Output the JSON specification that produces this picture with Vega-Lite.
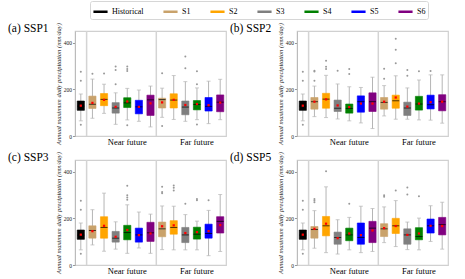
{
  "$schema": "https://vega.github.io/schema/vega-lite/v6.json",
  "padding": {"left": 7, "top": 0, "right": 2, "bottom": 2},
  "background": "white",
  "datasets": {
    "sep": [{"slot": "N1"}, {"slot": "F1"}],
    "box": [
      {"panel": "SSP1", "slot": "H", "series": "Historical", "lo": 65, "q1": 110, "med": 128, "q3": 150, "hi": 180, "mean": 130},
      {"panel": "SSP1", "slot": "N1", "series": "S1", "lo": 76, "q1": 118, "med": 136, "q3": 171, "hi": 244, "mean": 142},
      {"panel": "SSP1", "slot": "N2", "series": "S2", "lo": 97, "q1": 130, "med": 157, "q3": 182, "hi": 222, "mean": 155},
      {"panel": "SSP1", "slot": "N3", "series": "S3", "lo": 50, "q1": 98, "med": 120, "q3": 143, "hi": 185, "mean": 125},
      {"panel": "SSP1", "slot": "N4", "series": "S4", "lo": 69, "q1": 122, "med": 142, "q3": 164, "hi": 204, "mean": 148},
      {"panel": "SSP1", "slot": "N5", "series": "S5", "lo": 63, "q1": 95, "med": 125, "q3": 153, "hi": 197, "mean": 125},
      {"panel": "SSP1", "slot": "N6", "series": "S6", "lo": 39, "q1": 88, "med": 155, "q3": 175, "hi": 214, "mean": 140},
      {"panel": "SSP1", "slot": "F1", "series": "S1", "lo": 80, "q1": 120, "med": 156, "q3": 162, "hi": 205, "mean": 144},
      {"panel": "SSP1", "slot": "F2", "series": "S2", "lo": 71, "q1": 120, "med": 154, "q3": 181, "hi": 259, "mean": 155},
      {"panel": "SSP1", "slot": "F3", "series": "S3", "lo": 63, "q1": 91, "med": 124, "q3": 150, "hi": 233, "mean": 133},
      {"panel": "SSP1", "slot": "F4", "series": "S4", "lo": 70, "q1": 112, "med": 135, "q3": 152, "hi": 206, "mean": 137},
      {"panel": "SSP1", "slot": "F5", "series": "S5", "lo": 53, "q1": 107, "med": 127, "q3": 165, "hi": 235, "mean": 132},
      {"panel": "SSP1", "slot": "F6", "series": "S6", "lo": 70, "q1": 104, "med": 145, "q3": 176, "hi": 243, "mean": 143},

      {"panel": "SSP2", "slot": "H", "series": "Historical", "lo": 65, "q1": 110, "med": 128, "q3": 150, "hi": 180, "mean": 130},
      {"panel": "SSP2", "slot": "N1", "series": "S1", "lo": 83, "q1": 115, "med": 147, "q3": 165, "hi": 214, "mean": 147},
      {"panel": "SSP2", "slot": "N2", "series": "S2", "lo": 79, "q1": 119, "med": 158, "q3": 183, "hi": 260, "mean": 157},
      {"panel": "SSP2", "slot": "N3", "series": "S3", "lo": 73, "q1": 105, "med": 119, "q3": 154, "hi": 223, "mean": 131},
      {"panel": "SSP2", "slot": "N4", "series": "S4", "lo": 65, "q1": 98, "med": 118, "q3": 137, "hi": 211, "mean": 124},
      {"panel": "SSP2", "slot": "N5", "series": "S5", "lo": 56, "q1": 102, "med": 147, "q3": 172, "hi": 208, "mean": 139},
      {"panel": "SSP2", "slot": "N6", "series": "S6", "lo": 32, "q1": 105, "med": 147, "q3": 185, "hi": 252, "mean": 139},
      {"panel": "SSP2", "slot": "F1", "series": "S1", "lo": 86, "q1": 115, "med": 144, "q3": 165, "hi": 216, "mean": 147},
      {"panel": "SSP2", "slot": "F2", "series": "S2", "lo": 72, "q1": 119, "med": 151, "q3": 175, "hi": 258, "mean": 165},
      {"panel": "SSP2", "slot": "F3", "series": "S3", "lo": 72, "q1": 88, "med": 120, "q3": 145, "hi": 206, "mean": 126},
      {"panel": "SSP2", "slot": "F4", "series": "S4", "lo": 69, "q1": 111, "med": 137, "q3": 170, "hi": 240, "mean": 139},
      {"panel": "SSP2", "slot": "F5", "series": "S5", "lo": 68, "q1": 116, "med": 134, "q3": 175, "hi": 262, "mean": 145},
      {"panel": "SSP2", "slot": "F6", "series": "S6", "lo": 55, "q1": 108, "med": 147, "q3": 177, "hi": 262, "mean": 147},

      {"panel": "SSP3", "slot": "H", "series": "Historical", "lo": 65, "q1": 110, "med": 128, "q3": 150, "hi": 180, "mean": 130},
      {"panel": "SSP3", "slot": "N1", "series": "S1", "lo": 86, "q1": 115, "med": 148, "q3": 168, "hi": 237, "mean": 145},
      {"panel": "SSP3", "slot": "N2", "series": "S2", "lo": 59, "q1": 115, "med": 161, "q3": 207, "hi": 308, "mean": 168},
      {"panel": "SSP3", "slot": "N3", "series": "S3", "lo": 68, "q1": 98, "med": 115, "q3": 144, "hi": 185, "mean": 121},
      {"panel": "SSP3", "slot": "N4", "series": "S4", "lo": 50, "q1": 108, "med": 139, "q3": 170, "hi": 258, "mean": 150},
      {"panel": "SSP3", "slot": "N5", "series": "S5", "lo": 73, "q1": 98, "med": 129, "q3": 158, "hi": 227, "mean": 128},
      {"panel": "SSP3", "slot": "N6", "series": "S6", "lo": 50, "q1": 101, "med": 138, "q3": 183, "hi": 218, "mean": 135},
      {"panel": "SSP3", "slot": "F1", "series": "S1", "lo": 66, "q1": 121, "med": 155, "q3": 184, "hi": 253, "mean": 166},
      {"panel": "SSP3", "slot": "F2", "series": "S2", "lo": 65, "q1": 132, "med": 161, "q3": 190, "hi": 252, "mean": 170},
      {"panel": "SSP3", "slot": "F3", "series": "S3", "lo": 65, "q1": 96, "med": 129, "q3": 161, "hi": 216, "mean": 137},
      {"panel": "SSP3", "slot": "F4", "series": "S4", "lo": 65, "q1": 111, "med": 132, "q3": 162, "hi": 188, "mean": 141},
      {"panel": "SSP3", "slot": "F5", "series": "S5", "lo": 40, "q1": 115, "med": 135, "q3": 175, "hi": 234, "mean": 145},
      {"panel": "SSP3", "slot": "F6", "series": "S6", "lo": 58, "q1": 137, "med": 187, "q3": 207, "hi": 302, "mean": 171},

      {"panel": "SSP5", "slot": "H", "series": "Historical", "lo": 65, "q1": 110, "med": 128, "q3": 150, "hi": 180, "mean": 130},
      {"panel": "SSP5", "slot": "N1", "series": "S1", "lo": 72, "q1": 115, "med": 152, "q3": 165, "hi": 233, "mean": 155},
      {"panel": "SSP5", "slot": "N2", "series": "S2", "lo": 53, "q1": 125, "med": 168, "q3": 208, "hi": 335, "mean": 177},
      {"panel": "SSP5", "slot": "N3", "series": "S3", "lo": 47, "q1": 89, "med": 118, "q3": 141, "hi": 194, "mean": 115},
      {"panel": "SSP5", "slot": "N4", "series": "S4", "lo": 65, "q1": 104, "med": 129, "q3": 158, "hi": 204, "mean": 135},
      {"panel": "SSP5", "slot": "N5", "series": "S5", "lo": 53, "q1": 89, "med": 118, "q3": 180, "hi": 252, "mean": 128},
      {"panel": "SSP5", "slot": "N6", "series": "S6", "lo": 58, "q1": 96, "med": 158, "q3": 187, "hi": 242, "mean": 148},
      {"panel": "SSP5", "slot": "F1", "series": "S1", "lo": 96, "q1": 122, "med": 155, "q3": 177, "hi": 249, "mean": 158},
      {"panel": "SSP5", "slot": "F2", "series": "S2", "lo": 79, "q1": 135, "med": 168, "q3": 200, "hi": 276, "mean": 167},
      {"panel": "SSP5", "slot": "F3", "series": "S3", "lo": 66, "q1": 89, "med": 129, "q3": 155, "hi": 184, "mean": 129},
      {"panel": "SSP5", "slot": "F4", "series": "S4", "lo": 65, "q1": 108, "med": 122, "q3": 160, "hi": 201, "mean": 135},
      {"panel": "SSP5", "slot": "F5", "series": "S5", "lo": 101, "q1": 137, "med": 168, "q3": 197, "hi": 254, "mean": 168},
      {"panel": "SSP5", "slot": "F6", "series": "S6", "lo": 68, "q1": 129, "med": 173, "q3": 204, "hi": 269, "mean": 167}
    ],
    "out": [
      {"panel": "SSP1", "slot": "H", "v": 275}, {"panel": "SSP1", "slot": "H", "v": 237}, {"panel": "SSP1", "slot": "H", "v": 48},
      {"panel": "SSP1", "slot": "N1", "v": 267},
      {"panel": "SSP1", "slot": "N2", "v": 268},
      {"panel": "SSP1", "slot": "N3", "v": 298}, {"panel": "SSP1", "slot": "N3", "v": 283}, {"panel": "SSP1", "slot": "N3", "v": 222},
      {"panel": "SSP1", "slot": "N4", "v": 298}, {"panel": "SSP1", "slot": "N4", "v": 287}, {"panel": "SSP1", "slot": "N4", "v": 279}, {"panel": "SSP1", "slot": "N4", "v": 46},
      {"panel": "SSP1", "slot": "F1", "v": 269}, {"panel": "SSP1", "slot": "F1", "v": 43},
      {"panel": "SSP1", "slot": "F3", "v": 341}, {"panel": "SSP1", "slot": "F3", "v": 290},
      {"panel": "SSP1", "slot": "F4", "v": 277}, {"panel": "SSP1", "slot": "F4", "v": 222}, {"panel": "SSP1", "slot": "F4", "v": 49},

      {"panel": "SSP2", "slot": "H", "v": 275}, {"panel": "SSP2", "slot": "H", "v": 237}, {"panel": "SSP2", "slot": "H", "v": 48},
      {"panel": "SSP2", "slot": "N1", "v": 280}, {"panel": "SSP2", "slot": "N1", "v": 276}, {"panel": "SSP2", "slot": "N1", "v": 237},
      {"panel": "SSP2", "slot": "N2", "v": 323}, {"panel": "SSP2", "slot": "N2", "v": 297}, {"panel": "SSP2", "slot": "N2", "v": 287},
      {"panel": "SSP2", "slot": "N3", "v": 280},
      {"panel": "SSP2", "slot": "N4", "v": 287}, {"panel": "SSP2", "slot": "N4", "v": 266},
      {"panel": "SSP2", "slot": "F1", "v": 288}, {"panel": "SSP2", "slot": "F1", "v": 245},
      {"panel": "SSP2", "slot": "F2", "v": 417}, {"panel": "SSP2", "slot": "F2", "v": 370}, {"panel": "SSP2", "slot": "F2", "v": 312},
      {"panel": "SSP2", "slot": "F3", "v": 283}, {"panel": "SSP2", "slot": "F3", "v": 258},
      {"panel": "SSP2", "slot": "F4", "v": 277},
      {"panel": "SSP2", "slot": "F5", "v": 279},

      {"panel": "SSP3", "slot": "H", "v": 275}, {"panel": "SSP3", "slot": "H", "v": 237}, {"panel": "SSP3", "slot": "H", "v": 48},
      {"panel": "SSP3", "slot": "N4", "v": 340}, {"panel": "SSP3", "slot": "N4", "v": 299}, {"panel": "SSP3", "slot": "N4", "v": 289}, {"panel": "SSP3", "slot": "N4", "v": 280},
      {"panel": "SSP3", "slot": "F1", "v": 335}, {"panel": "SSP3", "slot": "F1", "v": 313}, {"panel": "SSP3", "slot": "F1", "v": 307},
      {"panel": "SSP3", "slot": "F2", "v": 341}, {"panel": "SSP3", "slot": "F2", "v": 331}, {"panel": "SSP3", "slot": "F2", "v": 319},
      {"panel": "SSP3", "slot": "F3", "v": 263},
      {"panel": "SSP3", "slot": "F4", "v": 283}, {"panel": "SSP3", "slot": "F4", "v": 278},
      {"panel": "SSP3", "slot": "F5", "v": 277},

      {"panel": "SSP5", "slot": "H", "v": 275}, {"panel": "SSP5", "slot": "H", "v": 237}, {"panel": "SSP5", "slot": "H", "v": 48},
      {"panel": "SSP5", "slot": "N1", "v": 283}, {"panel": "SSP5", "slot": "N1", "v": 276}, {"panel": "SSP5", "slot": "N1", "v": 269},
      {"panel": "SSP5", "slot": "N2", "v": 402},
      {"panel": "SSP5", "slot": "N4", "v": 262},
      {"panel": "SSP5", "slot": "F1", "v": 299}, {"panel": "SSP5", "slot": "F1", "v": 292},
      {"panel": "SSP5", "slot": "F2", "v": 319},
      {"panel": "SSP5", "slot": "F3", "v": 332}, {"panel": "SSP5", "slot": "F3", "v": 302},
      {"panel": "SSP5", "slot": "F4", "v": 295}
    ]
  },
  "columns": 2,
  "spacing": {"row": 4, "column": 2},
  "resolve": {"scale": {"fill": "shared", "stroke": "shared"}, "legend": {"fill": "shared", "stroke": "shared"}},
  "concat": [
    {
      "width": 151, "height": 105,
      "title": {"text": "(a) SSP1", "orient": "none", "anchor": "start", "frame": "group", "align": "left", "baseline": "alphabetic", "offset": 0, "dx": -67, "dy": 1, "font": "Liberation Serif", "fontSize": 11.5, "fontWeight": "normal", "color": "#000000"},
      "layer": [
        {"data": {"name": "sep"}, "mark": {"type": "rule", "color": "#d4d4d4", "strokeWidth": 1.5},
         "encoding": {"x": {"field": "slot", "type": "nominal", "bandPosition": 0,
           "scale": {"domain": ["H","N1","N2","N3","N4","N5","N6","F1","F2","F3","F4","F5","F6"], "paddingInner": 0, "paddingOuter": 0},
           "axis": {"title": null, "values": ["N4","F4"], "bandPosition": 0, "labelExpr": "datum.value === 'N4' ? 'Near future' : 'Far future'", "ticks": false, "domain": false, "labelAngle": 0, "labelFont": "Liberation Serif", "labelFontSize": 8.5, "labelColor": "#000000", "labelPadding": 1}}}},
        {"data": {"name": "box"}, "transform": [{"filter": "datum.panel === 'SSP1'"}],
         "layer": [
           {"mark": {"type": "rule", "color": "#b5b5b5", "strokeWidth": 1},
            "encoding": {"x": {"field": "slot", "type": "nominal"},
              "y": {"field": "lo", "type": "quantitative", "scale": {"domain": [0, 450], "nice": false},
                "axis": {"title": "Annual maximum daily precipitation (mm/day)", "values": [0,50,100,150,200,250,300,350,400,450], "labelOverlap": false, "grid": false, "labelFontSize": 5.5, "labelFont": "Liberation Serif", "labelColor": "#222222", "tickSize": 2.5, "tickColor": "#999999", "domainColor": "#bbbbbb", "labelPadding": 1, "titleFont": "Liberation Serif", "titleFontSize": 6.5, "titleFontStyle": "italic", "titleFontWeight": "normal", "titleColor": "#222222", "titlePadding": 2}},
              "y2": {"field": "hi"}}},
           {"mark": {"type": "tick", "color": "#b5b5b5", "thickness": 1, "size": 4}, "encoding": {"x": {"field": "slot", "type": "nominal"}, "y": {"field": "lo", "type": "quantitative"}}},
           {"mark": {"type": "tick", "color": "#b5b5b5", "thickness": 1, "size": 4}, "encoding": {"x": {"field": "slot", "type": "nominal"}, "y": {"field": "hi", "type": "quantitative"}}},
           {"mark": {"type": "bar", "width": {"band": 0.62}, "strokeWidth": 0.6},
            "encoding": {"x": {"field": "slot", "type": "nominal"}, "y": {"field": "q1", "type": "quantitative"}, "y2": {"field": "q3"},
              "fill": {"field": "series", "type": "nominal",
                "scale": {"domain": ["Historical","S1","S2","S3","S4","S5","S6"], "range": ["#000000","#C9A26B","#FFA500","#7F7F7F","#008000","#0000FF","#800080"]},
                "legend": {"orient": "none", "legendX": 15, "legendY": -30, "direction": "horizontal", "gridAlign": "each", "title": null, "symbolType": "stroke", "symbolSize": 200, "symbolStrokeWidth": 2.5, "labelFont": "Liberation Serif", "labelFontSize": 8, "labelColor": "#000000", "columnPadding": 14, "labelOffset": 3, "padding": 2, "strokeColor": "#d6d6d6", "cornerRadius": 2}},
              "stroke": {"field": "series", "type": "nominal",
                "scale": {"domain": ["Historical","S1","S2","S3","S4","S5","S6"], "range": ["#000000","#C9A26B","#FFA500","#7F7F7F","#008000","#0000FF","#800080"]},
                "legend": {"orient": "none", "legendX": 15, "legendY": -30, "direction": "horizontal", "gridAlign": "each", "title": null, "symbolType": "stroke", "symbolSize": 200, "symbolStrokeWidth": 2.5, "labelFont": "Liberation Serif", "labelFontSize": 8, "labelColor": "#000000", "columnPadding": 14, "labelOffset": 3, "padding": 2, "strokeColor": "#d6d6d6", "cornerRadius": 2}}}},
           {"mark": {"type": "tick", "color": "#000000", "thickness": 1, "size": 7}, "encoding": {"x": {"field": "slot", "type": "nominal"}, "y": {"field": "med", "type": "quantitative"}}},
           {"mark": {"type": "square", "color": "#ff0000", "size": 5, "opacity": 1}, "encoding": {"x": {"field": "slot", "type": "nominal"}, "y": {"field": "mean", "type": "quantitative"}}}
         ]},
        {"data": {"name": "out"}, "transform": [{"filter": "datum.panel === 'SSP1'"}],
         "mark": {"type": "circle", "color": "#999999", "size": 4, "opacity": 1},
         "encoding": {"x": {"field": "slot", "type": "nominal"}, "y": {"field": "v", "type": "quantitative"}}}
      ]
    },
    {
      "width": 151, "height": 105,
      "title": {"text": "(b) SSP2", "orient": "none", "anchor": "start", "frame": "group", "align": "left", "baseline": "alphabetic", "offset": 0, "dx": -67, "dy": 1, "font": "Liberation Serif", "fontSize": 11.5, "fontWeight": "normal", "color": "#000000"},
      "layer": [
        {"data": {"name": "sep"}, "mark": {"type": "rule", "color": "#d4d4d4", "strokeWidth": 1.5},
         "encoding": {"x": {"field": "slot", "type": "nominal", "bandPosition": 0,
           "scale": {"domain": ["H","N1","N2","N3","N4","N5","N6","F1","F2","F3","F4","F5","F6"], "paddingInner": 0, "paddingOuter": 0},
           "axis": {"title": null, "values": ["N4","F4"], "bandPosition": 0, "labelExpr": "datum.value === 'N4' ? 'Near future' : 'Far future'", "ticks": false, "domain": false, "labelAngle": 0, "labelFont": "Liberation Serif", "labelFontSize": 8.5, "labelColor": "#000000", "labelPadding": 1}}}},
        {"data": {"name": "box"}, "transform": [{"filter": "datum.panel === 'SSP2'"}],
         "layer": [
           {"mark": {"type": "rule", "color": "#b5b5b5", "strokeWidth": 1},
            "encoding": {"x": {"field": "slot", "type": "nominal"},
              "y": {"field": "lo", "type": "quantitative", "scale": {"domain": [0, 450], "nice": false},
                "axis": {"title": "Annual maximum daily precipitation (mm/day)", "values": [0,50,100,150,200,250,300,350,400,450], "labelOverlap": false, "grid": false, "labelFontSize": 5.5, "labelFont": "Liberation Serif", "labelColor": "#222222", "tickSize": 2.5, "tickColor": "#999999", "domainColor": "#bbbbbb", "labelPadding": 1, "titleFont": "Liberation Serif", "titleFontSize": 6.5, "titleFontStyle": "italic", "titleFontWeight": "normal", "titleColor": "#222222", "titlePadding": 2}},
              "y2": {"field": "hi"}}},
           {"mark": {"type": "tick", "color": "#b5b5b5", "thickness": 1, "size": 4}, "encoding": {"x": {"field": "slot", "type": "nominal"}, "y": {"field": "lo", "type": "quantitative"}}},
           {"mark": {"type": "tick", "color": "#b5b5b5", "thickness": 1, "size": 4}, "encoding": {"x": {"field": "slot", "type": "nominal"}, "y": {"field": "hi", "type": "quantitative"}}},
           {"mark": {"type": "bar", "width": {"band": 0.62}, "strokeWidth": 0.6},
            "encoding": {"x": {"field": "slot", "type": "nominal"}, "y": {"field": "q1", "type": "quantitative"}, "y2": {"field": "q3"},
              "fill": {"field": "series", "type": "nominal",
                "scale": {"domain": ["Historical","S1","S2","S3","S4","S5","S6"], "range": ["#000000","#C9A26B","#FFA500","#7F7F7F","#008000","#0000FF","#800080"]},
                "legend": {"orient": "none", "legendX": 15, "legendY": -30, "direction": "horizontal", "gridAlign": "each", "title": null, "symbolType": "stroke", "symbolSize": 200, "symbolStrokeWidth": 2.5, "labelFont": "Liberation Serif", "labelFontSize": 8, "labelColor": "#000000", "columnPadding": 14, "labelOffset": 3, "padding": 2, "strokeColor": "#d6d6d6", "cornerRadius": 2}},
              "stroke": {"field": "series", "type": "nominal",
                "scale": {"domain": ["Historical","S1","S2","S3","S4","S5","S6"], "range": ["#000000","#C9A26B","#FFA500","#7F7F7F","#008000","#0000FF","#800080"]},
                "legend": {"orient": "none", "legendX": 15, "legendY": -30, "direction": "horizontal", "gridAlign": "each", "title": null, "symbolType": "stroke", "symbolSize": 200, "symbolStrokeWidth": 2.5, "labelFont": "Liberation Serif", "labelFontSize": 8, "labelColor": "#000000", "columnPadding": 14, "labelOffset": 3, "padding": 2, "strokeColor": "#d6d6d6", "cornerRadius": 2}}}},
           {"mark": {"type": "tick", "color": "#000000", "thickness": 1, "size": 7}, "encoding": {"x": {"field": "slot", "type": "nominal"}, "y": {"field": "med", "type": "quantitative"}}},
           {"mark": {"type": "square", "color": "#ff0000", "size": 5, "opacity": 1}, "encoding": {"x": {"field": "slot", "type": "nominal"}, "y": {"field": "mean", "type": "quantitative"}}}
         ]},
        {"data": {"name": "out"}, "transform": [{"filter": "datum.panel === 'SSP2'"}],
         "mark": {"type": "circle", "color": "#999999", "size": 4, "opacity": 1},
         "encoding": {"x": {"field": "slot", "type": "nominal"}, "y": {"field": "v", "type": "quantitative"}}}
      ]
    },
    {
      "width": 151, "height": 105,
      "title": {"text": "(c) SSP3", "orient": "none", "anchor": "start", "frame": "group", "align": "left", "baseline": "alphabetic", "offset": 0, "dx": -67, "dy": 1, "font": "Liberation Serif", "fontSize": 11.5, "fontWeight": "normal", "color": "#000000"},
      "layer": [
        {"data": {"name": "sep"}, "mark": {"type": "rule", "color": "#d4d4d4", "strokeWidth": 1.5},
         "encoding": {"x": {"field": "slot", "type": "nominal", "bandPosition": 0,
           "scale": {"domain": ["H","N1","N2","N3","N4","N5","N6","F1","F2","F3","F4","F5","F6"], "paddingInner": 0, "paddingOuter": 0},
           "axis": {"title": null, "values": ["N4","F4"], "bandPosition": 0, "labelExpr": "datum.value === 'N4' ? 'Near future' : 'Far future'", "ticks": false, "domain": false, "labelAngle": 0, "labelFont": "Liberation Serif", "labelFontSize": 8.5, "labelColor": "#000000", "labelPadding": 1}}}},
        {"data": {"name": "box"}, "transform": [{"filter": "datum.panel === 'SSP3'"}],
         "layer": [
           {"mark": {"type": "rule", "color": "#b5b5b5", "strokeWidth": 1},
            "encoding": {"x": {"field": "slot", "type": "nominal"},
              "y": {"field": "lo", "type": "quantitative", "scale": {"domain": [0, 450], "nice": false},
                "axis": {"title": "Annual maximum daily precipitation (mm/day)", "values": [0,50,100,150,200,250,300,350,400,450], "labelOverlap": false, "grid": false, "labelFontSize": 5.5, "labelFont": "Liberation Serif", "labelColor": "#222222", "tickSize": 2.5, "tickColor": "#999999", "domainColor": "#bbbbbb", "labelPadding": 1, "titleFont": "Liberation Serif", "titleFontSize": 6.5, "titleFontStyle": "italic", "titleFontWeight": "normal", "titleColor": "#222222", "titlePadding": 2}},
              "y2": {"field": "hi"}}},
           {"mark": {"type": "tick", "color": "#b5b5b5", "thickness": 1, "size": 4}, "encoding": {"x": {"field": "slot", "type": "nominal"}, "y": {"field": "lo", "type": "quantitative"}}},
           {"mark": {"type": "tick", "color": "#b5b5b5", "thickness": 1, "size": 4}, "encoding": {"x": {"field": "slot", "type": "nominal"}, "y": {"field": "hi", "type": "quantitative"}}},
           {"mark": {"type": "bar", "width": {"band": 0.62}, "strokeWidth": 0.6},
            "encoding": {"x": {"field": "slot", "type": "nominal"}, "y": {"field": "q1", "type": "quantitative"}, "y2": {"field": "q3"},
              "fill": {"field": "series", "type": "nominal",
                "scale": {"domain": ["Historical","S1","S2","S3","S4","S5","S6"], "range": ["#000000","#C9A26B","#FFA500","#7F7F7F","#008000","#0000FF","#800080"]},
                "legend": {"orient": "none", "legendX": 15, "legendY": -30, "direction": "horizontal", "gridAlign": "each", "title": null, "symbolType": "stroke", "symbolSize": 200, "symbolStrokeWidth": 2.5, "labelFont": "Liberation Serif", "labelFontSize": 8, "labelColor": "#000000", "columnPadding": 14, "labelOffset": 3, "padding": 2, "strokeColor": "#d6d6d6", "cornerRadius": 2}},
              "stroke": {"field": "series", "type": "nominal",
                "scale": {"domain": ["Historical","S1","S2","S3","S4","S5","S6"], "range": ["#000000","#C9A26B","#FFA500","#7F7F7F","#008000","#0000FF","#800080"]},
                "legend": {"orient": "none", "legendX": 15, "legendY": -30, "direction": "horizontal", "gridAlign": "each", "title": null, "symbolType": "stroke", "symbolSize": 200, "symbolStrokeWidth": 2.5, "labelFont": "Liberation Serif", "labelFontSize": 8, "labelColor": "#000000", "columnPadding": 14, "labelOffset": 3, "padding": 2, "strokeColor": "#d6d6d6", "cornerRadius": 2}}}},
           {"mark": {"type": "tick", "color": "#000000", "thickness": 1, "size": 7}, "encoding": {"x": {"field": "slot", "type": "nominal"}, "y": {"field": "med", "type": "quantitative"}}},
           {"mark": {"type": "square", "color": "#ff0000", "size": 5, "opacity": 1}, "encoding": {"x": {"field": "slot", "type": "nominal"}, "y": {"field": "mean", "type": "quantitative"}}}
         ]},
        {"data": {"name": "out"}, "transform": [{"filter": "datum.panel === 'SSP3'"}],
         "mark": {"type": "circle", "color": "#999999", "size": 4, "opacity": 1},
         "encoding": {"x": {"field": "slot", "type": "nominal"}, "y": {"field": "v", "type": "quantitative"}}}
      ]
    },
    {
      "width": 151, "height": 105,
      "title": {"text": "(d) SSP5", "orient": "none", "anchor": "start", "frame": "group", "align": "left", "baseline": "alphabetic", "offset": 0, "dx": -67, "dy": 1, "font": "Liberation Serif", "fontSize": 11.5, "fontWeight": "normal", "color": "#000000"},
      "layer": [
        {"data": {"name": "sep"}, "mark": {"type": "rule", "color": "#d4d4d4", "strokeWidth": 1.5},
         "encoding": {"x": {"field": "slot", "type": "nominal", "bandPosition": 0,
           "scale": {"domain": ["H","N1","N2","N3","N4","N5","N6","F1","F2","F3","F4","F5","F6"], "paddingInner": 0, "paddingOuter": 0},
           "axis": {"title": null, "values": ["N4","F4"], "bandPosition": 0, "labelExpr": "datum.value === 'N4' ? 'Near future' : 'Far future'", "ticks": false, "domain": false, "labelAngle": 0, "labelFont": "Liberation Serif", "labelFontSize": 8.5, "labelColor": "#000000", "labelPadding": 1}}}},
        {"data": {"name": "box"}, "transform": [{"filter": "datum.panel === 'SSP5'"}],
         "layer": [
           {"mark": {"type": "rule", "color": "#b5b5b5", "strokeWidth": 1},
            "encoding": {"x": {"field": "slot", "type": "nominal"},
              "y": {"field": "lo", "type": "quantitative", "scale": {"domain": [0, 450], "nice": false},
                "axis": {"title": "Annual maximum daily precipitation (mm/day)", "values": [0,50,100,150,200,250,300,350,400,450], "labelOverlap": false, "grid": false, "labelFontSize": 5.5, "labelFont": "Liberation Serif", "labelColor": "#222222", "tickSize": 2.5, "tickColor": "#999999", "domainColor": "#bbbbbb", "labelPadding": 1, "titleFont": "Liberation Serif", "titleFontSize": 6.5, "titleFontStyle": "italic", "titleFontWeight": "normal", "titleColor": "#222222", "titlePadding": 2}},
              "y2": {"field": "hi"}}},
           {"mark": {"type": "tick", "color": "#b5b5b5", "thickness": 1, "size": 4}, "encoding": {"x": {"field": "slot", "type": "nominal"}, "y": {"field": "lo", "type": "quantitative"}}},
           {"mark": {"type": "tick", "color": "#b5b5b5", "thickness": 1, "size": 4}, "encoding": {"x": {"field": "slot", "type": "nominal"}, "y": {"field": "hi", "type": "quantitative"}}},
           {"mark": {"type": "bar", "width": {"band": 0.62}, "strokeWidth": 0.6},
            "encoding": {"x": {"field": "slot", "type": "nominal"}, "y": {"field": "q1", "type": "quantitative"}, "y2": {"field": "q3"},
              "fill": {"field": "series", "type": "nominal",
                "scale": {"domain": ["Historical","S1","S2","S3","S4","S5","S6"], "range": ["#000000","#C9A26B","#FFA500","#7F7F7F","#008000","#0000FF","#800080"]},
                "legend": {"orient": "none", "legendX": 15, "legendY": -30, "direction": "horizontal", "gridAlign": "each", "title": null, "symbolType": "stroke", "symbolSize": 200, "symbolStrokeWidth": 2.5, "labelFont": "Liberation Serif", "labelFontSize": 8, "labelColor": "#000000", "columnPadding": 14, "labelOffset": 3, "padding": 2, "strokeColor": "#d6d6d6", "cornerRadius": 2}},
              "stroke": {"field": "series", "type": "nominal",
                "scale": {"domain": ["Historical","S1","S2","S3","S4","S5","S6"], "range": ["#000000","#C9A26B","#FFA500","#7F7F7F","#008000","#0000FF","#800080"]},
                "legend": {"orient": "none", "legendX": 15, "legendY": -30, "direction": "horizontal", "gridAlign": "each", "title": null, "symbolType": "stroke", "symbolSize": 200, "symbolStrokeWidth": 2.5, "labelFont": "Liberation Serif", "labelFontSize": 8, "labelColor": "#000000", "columnPadding": 14, "labelOffset": 3, "padding": 2, "strokeColor": "#d6d6d6", "cornerRadius": 2}}}},
           {"mark": {"type": "tick", "color": "#000000", "thickness": 1, "size": 7}, "encoding": {"x": {"field": "slot", "type": "nominal"}, "y": {"field": "med", "type": "quantitative"}}},
           {"mark": {"type": "square", "color": "#ff0000", "size": 5, "opacity": 1}, "encoding": {"x": {"field": "slot", "type": "nominal"}, "y": {"field": "mean", "type": "quantitative"}}}
         ]},
        {"data": {"name": "out"}, "transform": [{"filter": "datum.panel === 'SSP5'"}],
         "mark": {"type": "circle", "color": "#999999", "size": 4, "opacity": 1},
         "encoding": {"x": {"field": "slot", "type": "nominal"}, "y": {"field": "v", "type": "quantitative"}}}
      ]
    }
  ],
  "config": {
    "view": {"stroke": "#d0d0d0", "strokeWidth": 1.2},
    "font": "Liberation Serif"
  }
}
